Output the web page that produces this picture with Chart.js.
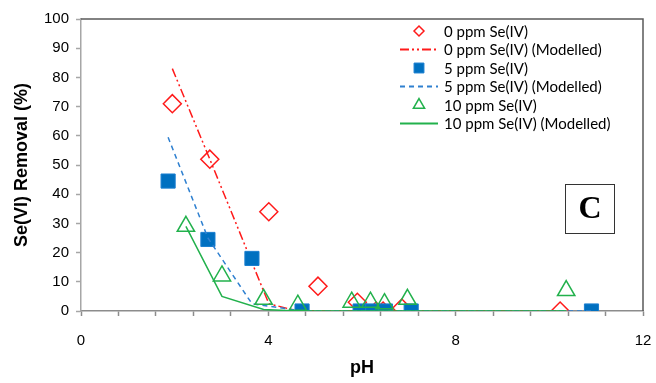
<!DOCTYPE html>
<html>
<head>
<meta charset="utf-8">
<script src="https://cdn.jsdelivr.net/npm/chart.js@4/dist/chart.umd.min.js"></script>
<style>
  html, body { margin: 0; padding: 0; background: #fff; }
  #wrap { width: 656px; height: 383px; }
</style>
</head>
<body>
<div id="wrap"><canvas id="chart" width="656" height="383"></canvas></div>
<script>
// ---------- Data ----------
const ph0 = [1.95, 2.75, 4.01, 5.06, 5.9, 6.3, 6.45, 6.85, 10.23];
const removal0 = [71, 52, 34, 8.5, 3, 0, 0, 1, 0];
const ph0Model = [1.95, 2.75, 4.01, 4.5, 5.06, 5.9, 6.3, 6.45, 6.85, 10.23];
const removal0Model = [83, 52, 2.5, 0.5, 0, 0, 0, 0, 0, 0];

const ph5 = [1.86, 2.71, 3.65, 4.72, 5.96, 6.23, 6.5, 7.05, 10.9];
const removal5 = [44.5, 24.5, 18, 0, 0, 0, 0, 0, 0];
const removal5Model = [59.5, 25, 2.5, 0, 0, 0, 0, 0, 0];

const ph10 = [2.24, 3.01, 3.9, 4.63, 5.78, 6.18, 6.48, 6.97, 10.36];
const removal10 = [29, 12, 4, 2, 3, 3, 2.5, 4, 7];
const removal10Model = [29, 5, 0.5, 0, 0, 0, 0, 0, 0];

const xLabels = [0, 4, 8, 12];
const xMinorStep = 0.8;
const yStep = 10;

const seriesNames = [
  '0 ppm Se(IV)', '0 ppm Se(IV) (Modelled)',
  '5 ppm Se(IV)', '5 ppm Se(IV) (Modelled)',
  '10 ppm Se(IV)', '10 ppm Se(IV) (Modelled)'
];

const RED = '#ff1a1a';
const BLUE = '#0070c0';
const BLUE_LINE = '#2f80d0';
const GREEN = '#22b14c';

function pts(xs, ys) {
  return xs.map((x, i) => ({ x: x, y: ys[i] }));
}

const axisFont = { family: 'Liberation Sans', size: 15 };
const titleFont = { family: 'Liberation Sans', size: 18, weight: 'bold' };

// ---------- Legend drawn inside the plot, top right ----------
const insideLegend = {
  id: 'insideLegend',
  afterDraw(chart) {
    const ctx = chart.ctx;
    const sets = chart.data.datasets;
    ctx.save();
    sets.forEach((ds, i) => {
      const y = 31 + i * 18.5;
      if (ds.showLine) {
        ctx.strokeStyle = ds.borderColor;
        ctx.lineWidth = 2;
        ctx.setLineDash(ds.borderDash || []);
        ctx.beginPath();
        ctx.moveTo(400, y);
        ctx.lineTo(438, y);
        ctx.stroke();
        ctx.setLineDash([]);
      } else {
        ctx.strokeStyle = ds.borderColor;
        ctx.fillStyle = ds.backgroundColor;
        ctx.lineWidth = ds.borderWidth;
        Chart.helpers.drawPoint(ctx, {
          pointStyle: ds.pointStyle,
          radius: ds.legendRadius,
          rotation: 0,
          borderWidth: ds.borderWidth
        }, 419, y);
      }
      ctx.fillStyle = '#000';
      ctx.font = '15px Lato';
      ctx.textBaseline = 'middle';
      ctx.textAlign = 'left';
      ctx.fillText(ds.label, 444, y + 1);
    });
    ctx.restore();
  }
};

// ---------- Top/right frame and the panel letter ----------
const frame = {
  id: 'frame',
  afterDraw(chart) {
    const ctx = chart.ctx;
    const a = chart.chartArea;
    ctx.save();
    ctx.strokeStyle = '#595959';
    ctx.lineWidth = 1.5;
    ctx.beginPath();
    ctx.moveTo(a.left, a.top);
    ctx.lineTo(a.right, a.top);
    ctx.lineTo(a.right, a.bottom);
    ctx.stroke();

    // panel letter box
    ctx.strokeStyle = '#333';
    ctx.lineWidth = 1;
    ctx.strokeRect(565.5, 184.5, 49, 49);
    ctx.fillStyle = '#000';
    ctx.font = 'bold 32px "Liberation Serif"';
    ctx.textAlign = 'center';
    ctx.textBaseline = 'middle';
    ctx.fillText('C', 590, 210);
    ctx.restore();
  }
};

new Chart(document.getElementById('chart'), {
  type: 'scatter',
  data: {
    datasets: [
      {
        label: seriesNames[0], data: pts(ph0, removal0),
        pointStyle: 'rectRot', pointRadius: 9, legendRadius: 5,
        borderColor: RED, backgroundColor: 'rgba(0,0,0,0)', borderWidth: 1.5,
        order: 6
      },
      {
        label: seriesNames[1], data: pts(ph0Model, removal0Model),
        showLine: true, pointRadius: 0, borderColor: RED, borderWidth: 1.5,
        borderDash: [9, 3, 2, 3, 2, 3], order: 5
      },
      {
        label: seriesNames[2], data: pts(ph5, removal5),
        pointStyle: 'rect', pointRadius: 10, legendRadius: 7,
        borderColor: '#1a7fd0', backgroundColor: BLUE, borderWidth: 1,
        order: 4
      },
      {
        label: seriesNames[3], data: pts(ph5, removal5Model),
        showLine: true, pointRadius: 0, borderColor: BLUE_LINE, borderWidth: 1.5,
        borderDash: [5, 4], order: 3
      },
      {
        label: seriesNames[4], data: pts(ph10, removal10),
        pointStyle: 'triangle', pointRadius: 10, legendRadius: 6.5,
        borderColor: GREEN, backgroundColor: 'rgba(0,0,0,0)', borderWidth: 1.5,
        order: 2
      },
      {
        label: seriesNames[5], data: pts(ph10, removal10Model),
        showLine: true, pointRadius: 0, borderColor: GREEN, borderWidth: 1.5,
        order: 1
      }
    ]
  },
  options: {
    responsive: false,
    animation: false,
    devicePixelRatio: 1,
    layout: { autoPadding: false, padding: { top: 19, right: 13, left: 0, bottom: 0 } },
    plugins: {
      legend: { display: false },
      tooltip: { enabled: false }
    },
    elements: { point: { hoverRadius: 0 } },
    scales: {
      x: {
        type: 'linear', min: 0, max: 12,
        ticks: {
          stepSize: xMinorStep, autoSkip: false, maxRotation: 0, padding: 16,
          font: axisFont, color: '#000',
          callback: v => (xLabels.includes(v) ? String(v) : '')
        },
        grid: { drawOnChartArea: false, tickLength: 5, tickColor: '#8c8c8c', tickWidth: 1.5 },
        border: { color: '#8c8c8c', width: 1.5 },
        title: { display: true, text: 'pH', font: titleFont, color: '#000', padding: { top: 0, bottom: 4 } },
        afterFit: s => { s.height = 72; s.paddingLeft = 0; s.paddingRight = 0; }
      },
      y: {
        min: 0, max: 100,
        ticks: { stepSize: yStep, padding: 7, font: axisFont, color: '#000' },
        grid: { drawOnChartArea: false, tickLength: 5, tickColor: '#a6a6a6', tickWidth: 1.5 },
        border: { color: '#a6a6a6', width: 1.5 },
        title: {
          display: true, text: 'Se(VI) Removal (%)', color: '#000',
          font: { family: 'Liberation Sans', size: 18, weight: 'bold', lineHeight: 1.2 },
          padding: { top: 11, bottom: 0 }
        },
        afterFit: s => { s.width = 81; }
      }
    }
  },
  plugins: [insideLegend, frame]
});
</script>
</body>
</html>
